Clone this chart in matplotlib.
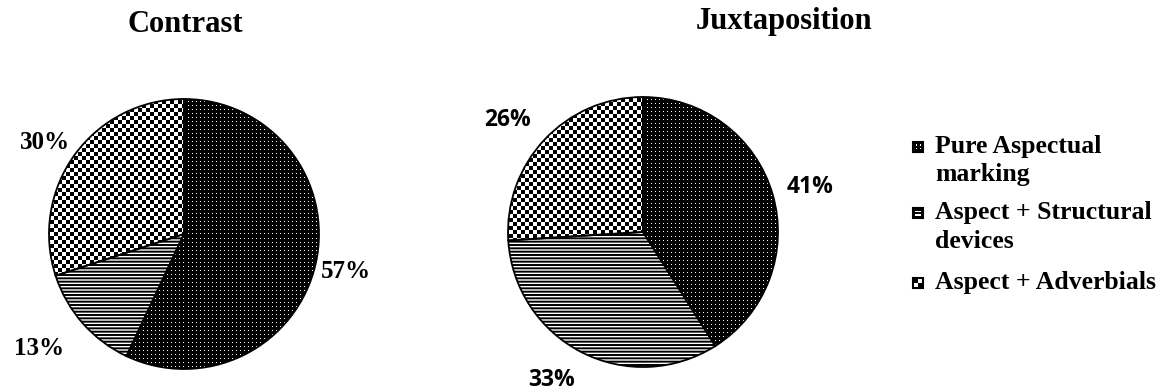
import numpy as np
import matplotlib.pyplot as plt
from matplotlib.patches import Rectangle

# =============== Data ===============
categories = ["Pure Aspectual\nmarking", "Aspect + Structural\ndevices", "Aspect + Adverbials"]
contrast_vals = [57, 13, 30]
juxta_vals = [41, 33, 26]
chart_titles = ["Contrast", "Juxtaposition"]

# label positions (in pie-radius units)
contrast_label_pos = [(1.20, -0.28), (-1.07, -0.85), (-1.03, 0.68)]
juxta_label_pos = [(1.24, 0.33), (-0.68, -1.10), (-1.00, 0.83)]

W, H = 1172, 392
fig = plt.figure(figsize=(W / 100, H / 100), dpi=100)
plt.rcParams["hatch.linewidth"] = 1.4

SERIF = "Liberation Serif"
SANS = "Open Sans"
R = 135  # pie radius, px
LIM = 1.02


def checker(n):
    return np.indices((n, n)).sum(axis=0) % 2


def dots(n, paso=4):
    a = np.zeros((n, n))
    a[1::paso, 1::paso] = 1
    return a


def dibujar_pie(cx, cy, valores, posiciones, fuente, tam):
    size = 2 * LIM * R
    ax = fig.add_axes([(cx - size / 2) / W, (H - cy - size / 2) / H, size / W, size / H])
    wedges, _ = ax.pie(valores, startangle=90, counterclock=False, radius=1,
                       wedgeprops=dict(linewidth=0))
    # Pure aspectual: black with white dots
    wedges[0].set_facecolor("black")
    im0 = ax.imshow(dots(int(round(size))), cmap="gray", interpolation="nearest",
                    extent=[-LIM, LIM, -LIM, LIM], zorder=3, vmin=0, vmax=1)
    im0.set_clip_path(wedges[0])
    # Structural devices: horizontal lines
    wedges[1].set_facecolor("white")
    wedges[1].set_edgecolor("black")
    wedges[1].set_hatch("-----")
    # Adverbials: checkerboard
    wedges[2].set_facecolor("white")
    n = int(round(size / 4))
    im2 = ax.imshow(checker(n), cmap="gray", interpolation="nearest",
                    extent=[-LIM, LIM, -LIM, LIM], zorder=3)
    im2.set_clip_path(wedges[2])
    # outlines
    ax.pie(valores, startangle=90, counterclock=False, radius=1,
           wedgeprops=dict(fill=False, edgecolor="black", linewidth=1.3, zorder=4))
    total = sum(valores)
    for v, (px, py) in zip(valores, posiciones):
        ax.text(px, py, f"{round(100 * v / total)}%", ha="center", va="center",
                fontsize=tam, fontweight="bold", family=fuente)
    ax.set_xlim(-LIM, LIM)
    ax.set_ylim(-LIM, LIM)
    ax.set_aspect("equal")
    ax.axis("off")
    return ax


dibujar_pie(184, 234, contrast_vals, contrast_label_pos, SERIF, 18)
dibujar_pie(643, 232, juxta_vals, juxta_label_pos, SANS, 16.5)

fig.text(185 / W, 1 - 25 / H, chart_titles[0], ha="center", va="center",
         fontsize=22, fontweight="bold", family=SERIF)
fig.text(784 / W, 1 - 22 / H, chart_titles[1], ha="center", va="center",
         fontsize=22, fontweight="bold", family=SERIF)

# =============== Legend ===============
leg_y = [147, 213, 283]
line_gap = 28
ms = 10
mx = 913
for i, (lab, y) in enumerate(zip(categories, leg_y)):
    x0, y0 = mx / W, (H - y - ms / 2) / H
    w, h = ms / W, ms / H
    if i == 0:
        fig.add_artist(Rectangle((x0, y0), w, h, transform=fig.transFigure,
                                 facecolor="black", edgecolor="none"))
        for dx, dy in [(0.3, 0.65), (0.65, 0.65), (0.3, 0.3), (0.65, 0.3)]:
            fig.add_artist(Rectangle((x0 + dx * w, y0 + dy * h), 0.12 * w, 0.12 * h,
                                     transform=fig.transFigure, facecolor="white",
                                     edgecolor="none"))
    elif i == 1:
        fig.add_artist(Rectangle((x0, y0), w, h, transform=fig.transFigure,
                                 facecolor="black", edgecolor="none"))
        for dy in [0.25, 0.6]:
            fig.add_artist(Rectangle((x0 + 0.2 * w, y0 + dy * h), 0.6 * w, 0.15 * h,
                                     transform=fig.transFigure, facecolor="white",
                                     edgecolor="none"))
    else:
        fig.add_artist(Rectangle((x0, y0), w, h, transform=fig.transFigure,
                                 facecolor="white", edgecolor="none"))
        fig.add_artist(Rectangle((x0, y0 + h / 2), w / 2, h / 2, transform=fig.transFigure,
                                 facecolor="black", edgecolor="none"))
        fig.add_artist(Rectangle((x0 + w / 2, y0), w / 2, h / 2, transform=fig.transFigure,
                                 facecolor="black", edgecolor="none"))
    fig.add_artist(Rectangle((x0, y0), w, h, transform=fig.transFigure,
                             fill=False, edgecolor="black", lw=1.5))
    for j, linea in enumerate(lab.split("\n")):
        fig.text(935 / W, 1 - (y + j * line_gap) / H, linea, ha="left", va="center",
                 fontsize=18.5, fontweight="bold", family=SERIF)

fig.savefig("out.png", dpi=100, facecolor="white")
